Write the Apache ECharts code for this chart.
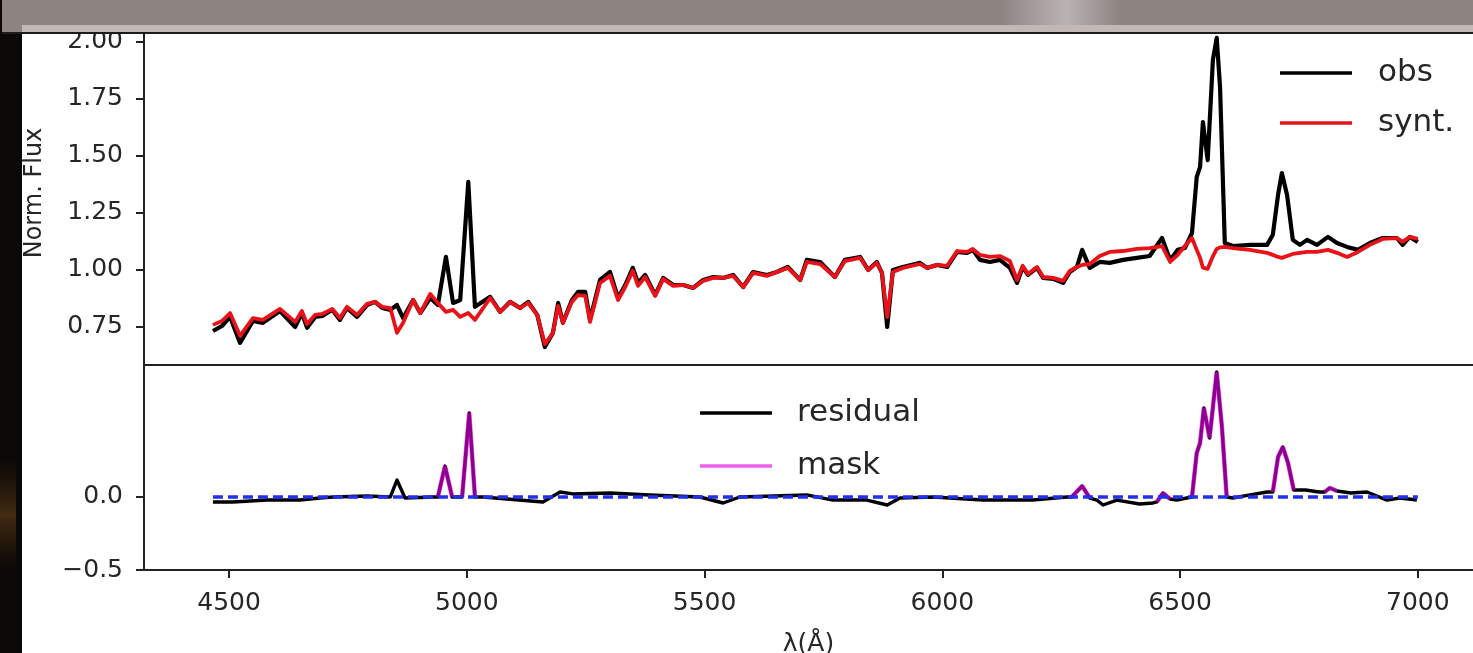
<!DOCTYPE html>
<html>
<head>
<meta charset="utf-8">
<script src="https://cdn.jsdelivr.net/npm/echarts@6/dist/echarts.min.js"></script>
<style>
html,body{margin:0;padding:0;background:#000;}
#c{width:1473px;height:653px;}
</style>
</head>
<body>
<div id="c"></div>
<script>
// ---------------- data ----------------
const lambda = [4466,4485,4502,4523,4550,4571,4607,4639,4653,4664,4681,4696,4717,4733,4748,4769,4790,4807,4822,4839,
  4853,4866,4887,4902,4923,4939,4956,4971,4986,5003,5017,5049,5070,5091,5112,5129,5148,5164,5181,5192,
  5202,5221,5234,5249,5259,5280,5301,5318,5333,5349,5360,5375,5396,5413,5434,5455,5476,5497,5518,5539,
  5560,5581,5602,5631,5652,5675,5701,5715,5743,5774,5795,5827,5844,5862,5873,5884,5896,5917,5953,5968,
  5989,6010,6031,6052,6064,6079,6100,6121,6142,6157,6169,6180,6199,6212,6233,6254,6268,6283,6294,6310,
  6331,6352,6380,6409,6436,6462,6479,6495,6510,6525,6535,6542,6548,6558,6569,6577,6584,6594,6611,6647,
  6683,6695,6706,6714,6725,6737,6752,6767,6788,6811,6830,6851,6874,6899,6926,6956,6968,6983,7000];

const obsFlux = [0.732,0.754,0.794,0.680,0.776,0.768,0.820,0.750,0.811,0.746,0.794,0.798,0.825,0.781,0.833,0.794,0.846,0.860,0.833,0.825,
  0.846,0.789,0.868,0.811,0.877,0.846,1.057,0.855,0.868,1.386,0.838,0.882,0.816,0.860,0.833,0.860,0.803,0.662,0.724,0.855,
  0.768,0.868,0.904,0.904,0.781,0.956,0.991,0.877,0.934,1.009,0.943,0.978,0.890,0.965,0.934,0.934,0.921,0.956,0.969,0.965,
  0.978,0.925,0.991,0.978,0.991,1.013,0.956,1.044,1.035,0.969,1.044,1.057,1.000,1.035,0.987,0.750,1.000,1.013,1.031,1.009,
  1.022,1.013,1.079,1.075,1.088,1.044,1.035,1.044,1.009,0.943,1.013,0.978,1.009,0.965,0.961,0.943,0.991,1.013,1.088,1.009,
  1.035,1.031,1.044,1.053,1.061,1.140,1.044,1.088,1.096,1.162,1.408,1.452,1.649,1.482,1.921,2.018,1.803,1.118,1.105,1.110,
  1.110,1.154,1.329,1.425,1.329,1.132,1.110,1.132,1.110,1.145,1.118,1.101,1.088,1.118,1.140,1.140,1.110,1.145,1.123];

const syntFlux = [0.759,0.776,0.811,0.711,0.789,0.781,0.829,0.772,0.820,0.763,0.803,0.807,0.829,0.789,0.838,0.803,0.851,0.860,0.838,0.833,
  0.724,0.768,0.868,0.811,0.895,0.855,0.816,0.825,0.794,0.811,0.781,0.877,0.816,0.860,0.833,0.855,0.803,0.675,0.724,0.842,
  0.768,0.860,0.890,0.886,0.772,0.943,0.974,0.868,0.925,0.996,0.930,0.969,0.886,0.961,0.930,0.934,0.921,0.952,0.965,0.965,
  0.974,0.925,0.987,0.974,0.991,1.009,0.956,1.035,1.026,0.969,1.039,1.053,1.000,1.031,0.987,0.794,0.991,1.009,1.026,1.009,
  1.022,1.018,1.083,1.079,1.092,1.066,1.057,1.061,1.039,0.956,1.018,0.982,1.013,0.969,0.965,0.952,0.996,1.013,1.022,1.026,
  1.061,1.079,1.083,1.092,1.096,1.105,1.035,1.066,1.105,1.140,1.088,1.053,1.010,1.005,1.060,1.092,1.099,1.101,1.096,1.088,
  1.075,1.066,1.057,1.053,1.061,1.070,1.075,1.079,1.079,1.088,1.075,1.057,1.079,1.110,1.136,1.140,1.123,1.145,1.136];

const residLambda = [4466,4508,4580,4649,4691,4719,4790,4839,4853,4870,4929,4939,4954,4969,4990,5005,5017,5034,5160,5196,
  5223,5301,5385,5490,5539,5574,5715,5770,5841,5884,5911,5980,6085,6190,6262,6272,6294,6310,6325,6338,
  6367,6415,6443,6451,6464,6479,6493,6514,6525,6535,6542,6550,6562,6577,6588,6598,6611,6647,6683,6695,
  6706,6716,6727,6739,6764,6792,6804,6815,6830,6859,6893,6935,6962,6998];

const residual = [-0.034,-0.034,-0.021,-0.021,-0.007,0.000,0.007,0.000,0.116,-0.007,0.000,0.000,0.212,0.000,0.000,0.575,0.000,0.000,-0.034,0.034,
  0.021,0.027,0.014,0.000,-0.041,0.000,0.014,-0.021,-0.021,-0.055,-0.007,0.000,-0.021,-0.021,0.000,0.000,0.075,-0.007,-0.021,-0.055,
  -0.021,-0.048,-0.041,-0.034,0.027,-0.014,-0.021,-0.007,0.000,0.301,0.370,0.610,0.404,0.856,0.479,0.000,-0.007,0.014,0.034,0.034,
  0.274,0.342,0.233,0.048,0.048,0.034,0.034,0.062,0.041,0.027,0.034,-0.021,-0.007,-0.021];

// masked wavelength windows
const maskRanges = [[4939,4969],[4990,5017],[6272,6310],[6451,6479],[6525,6598],[6695,6739],[6804,6830]];

const zeroLine = [[4466,0],[7000,0]];

const xTicks = [4500,5000,5500,6000,6500,7000];
const fluxTicks = [0.75,1.00,1.25,1.50,1.75,2.00];
const residTicks = [-0.5,0.0];

// ---------------- chart ----------------
const FONT = 'DejaVu Sans';
const TXT = '#262626';
const AX = '#222222';
const X_MIN = 4321, X_MAX = 7116;
const MAGENTA = 'rgba(228,0,228,0.62)';

const zip = (xs, ys) => xs.map((x, i) => [x, ys[i]]);
const residPairs = zip(residLambda, residual);

const maskSeries = maskRanges.map(r => ({
  name: 'mask', type: 'line', xAxisIndex: 1, yAxisIndex: 1,
  data: residPairs.filter(p => p[0] >= r[0] && p[0] <= r[1]),
  symbol: 'none', showSymbol: false, silent: true, z: 4,
  lineStyle: {color: MAGENTA, width: 4.6},
  itemStyle: {color: MAGENTA}
}));

const axisLineStyle = {show: true, onZero: false, lineStyle: {color: AX, width: 2}};
const tickStyle = {color: AX, width: 2};
const labelStyle = {fontFamily: FONT, fontSize: 25, color: TXT};

const chart = echarts.init(document.getElementById('c'), null, {renderer: 'canvas'});

const option = {
  animation: false,
  backgroundColor: '#ffffff',
  grid: [
    {left: 144, top: 21, width: 1329, height: 344, outerBoundsMode: 'none', containLabel: false},
    {left: 144, top: 365, width: 1329, height: 205, outerBoundsMode: 'none', containLabel: false}
  ],
  xAxis: [
    {gridIndex: 0, type: 'value', min: X_MIN, max: X_MAX,
      axisLine: axisLineStyle, axisTick: {show: false}, axisLabel: {show: false}, splitLine: {show: false}},
    {gridIndex: 1, type: 'value', min: X_MIN, max: X_MAX,
      name: 'λ(Å)', nameLocation: 'middle', nameGap: 62,
      nameTextStyle: {fontFamily: FONT, fontSize: 25, color: TXT},
      axisLine: axisLineStyle,
      axisTick: {show: true, customValues: xTicks, length: 8, lineStyle: tickStyle},
      axisLabel: Object.assign({customValues: xTicks, margin: 21, formatter: v => String(v)}, labelStyle),
      splitLine: {show: false}}
  ],
  yAxis: [
    {gridIndex: 0, type: 'value', min: 0.583, max: 2.092,
      name: 'Norm. Flux', nameLocation: 'middle', nameGap: 97, nameRotate: 90,
      nameTextStyle: {fontFamily: FONT, fontSize: 24, color: TXT},
      axisLine: axisLineStyle,
      axisTick: {show: true, customValues: fluxTicks, length: 8, lineStyle: tickStyle},
      axisLabel: Object.assign({customValues: fluxTicks, margin: 21, formatter: v => v.toFixed(2)}, labelStyle),
      splitLine: {show: false}},
    {gridIndex: 1, type: 'value', min: -0.5, max: 0.904,
      axisLine: axisLineStyle,
      axisTick: {show: true, customValues: residTicks, length: 8, lineStyle: tickStyle},
      axisLabel: Object.assign({customValues: residTicks, margin: 21,
        formatter: v => v.toFixed(1).replace('-', '\u2212')}, labelStyle),
      splitLine: {show: false}}
  ],
  legend: [
    {data: ['obs', 'synt.'], orient: 'vertical', left: 1280, top: 57, padding: 0,
      icon: 'rect', itemWidth: 72, itemHeight: 3.5, itemGap: 18, selectedMode: false,
      textStyle: {fontFamily: FONT, fontSize: 31, color: TXT, lineHeight: 32, padding: [0, 0, 0, 21]}},
    {data: ['residual', 'mask'], orient: 'vertical', left: 700, top: 397, padding: 0,
      icon: 'rect', itemWidth: 72, itemHeight: 3.5, itemGap: 21, selectedMode: false,
      textStyle: {fontFamily: FONT, fontSize: 31, color: TXT, lineHeight: 32, padding: [0, 0, 0, 20]}}
  ],
  series: [
    {name: 'obs', type: 'line', xAxisIndex: 0, yAxisIndex: 0, data: zip(lambda, obsFlux),
      symbol: 'none', showSymbol: false, silent: true, z: 2,
      lineStyle: {color: '#000000', width: 4.2, join: 'round'}, itemStyle: {color: '#000000'}},
    {name: 'synt.', type: 'line', xAxisIndex: 0, yAxisIndex: 0, data: zip(lambda, syntFlux),
      symbol: 'none', showSymbol: false, silent: true, z: 3,
      lineStyle: {color: '#ea1219', width: 3.8, join: 'round'}, itemStyle: {color: '#ea1219'}},
    {name: 'residual', type: 'line', xAxisIndex: 1, yAxisIndex: 1, data: residPairs,
      symbol: 'none', showSymbol: false, silent: true, z: 2,
      lineStyle: {color: '#000000', width: 3.4, join: 'round'}, itemStyle: {color: '#000000'}},
    ...maskSeries,
    {name: 'zero', type: 'line', xAxisIndex: 1, yAxisIndex: 1, data: zeroLine,
      symbol: 'none', showSymbol: false, silent: true, z: 5,
      lineStyle: {color: '#2032ea', width: 3.4, type: [10, 5]}, itemStyle: {color: '#2032ea'}}
  ],
  graphic: [
    // slide background: dark strip on the left
    {type: 'rect', z: 100, silent: true, shape: {x: 0, y: 0, width: 22, height: 653}, style: {fill: '#0b0907'}},
    {type: 'rect', z: 101, silent: true, shape: {x: 0, y: 460, width: 16, height: 110},
      style: {fill: new echarts.graphic.LinearGradient(0, 0, 0, 1, [
        {offset: 0, color: 'rgba(90,55,20,0)'},
        {offset: 0.5, color: 'rgba(110,70,25,0.55)'},
        {offset: 1, color: 'rgba(90,55,20,0)'}])}},
    // slide title bar
    {type: 'rect', z: 100, silent: true, shape: {x: 2, y: 0, width: 1471, height: 32}, style: {fill: '#8d8482'}},
    {type: 'rect', z: 101, silent: true, shape: {x: 22, y: 25, width: 1451, height: 7}, style: {fill: '#c2b8b6'}},
    {type: 'rect', z: 101, silent: true, shape: {x: 1000, y: 0, width: 120, height: 25},
      style: {fill: new echarts.graphic.LinearGradient(0, 0, 1, 0, [
        {offset: 0, color: 'rgba(200,195,194,0)'},
        {offset: 0.55, color: 'rgba(200,195,194,0.75)'},
        {offset: 1, color: 'rgba(200,195,194,0)'}])}},
    {type: 'rect', z: 102, silent: true, shape: {x: 2, y: 32, width: 1471, height: 2}, style: {fill: '#1c1c1c'}}
  ]
};

chart.setOption(option);
</script>
</body>
</html>
